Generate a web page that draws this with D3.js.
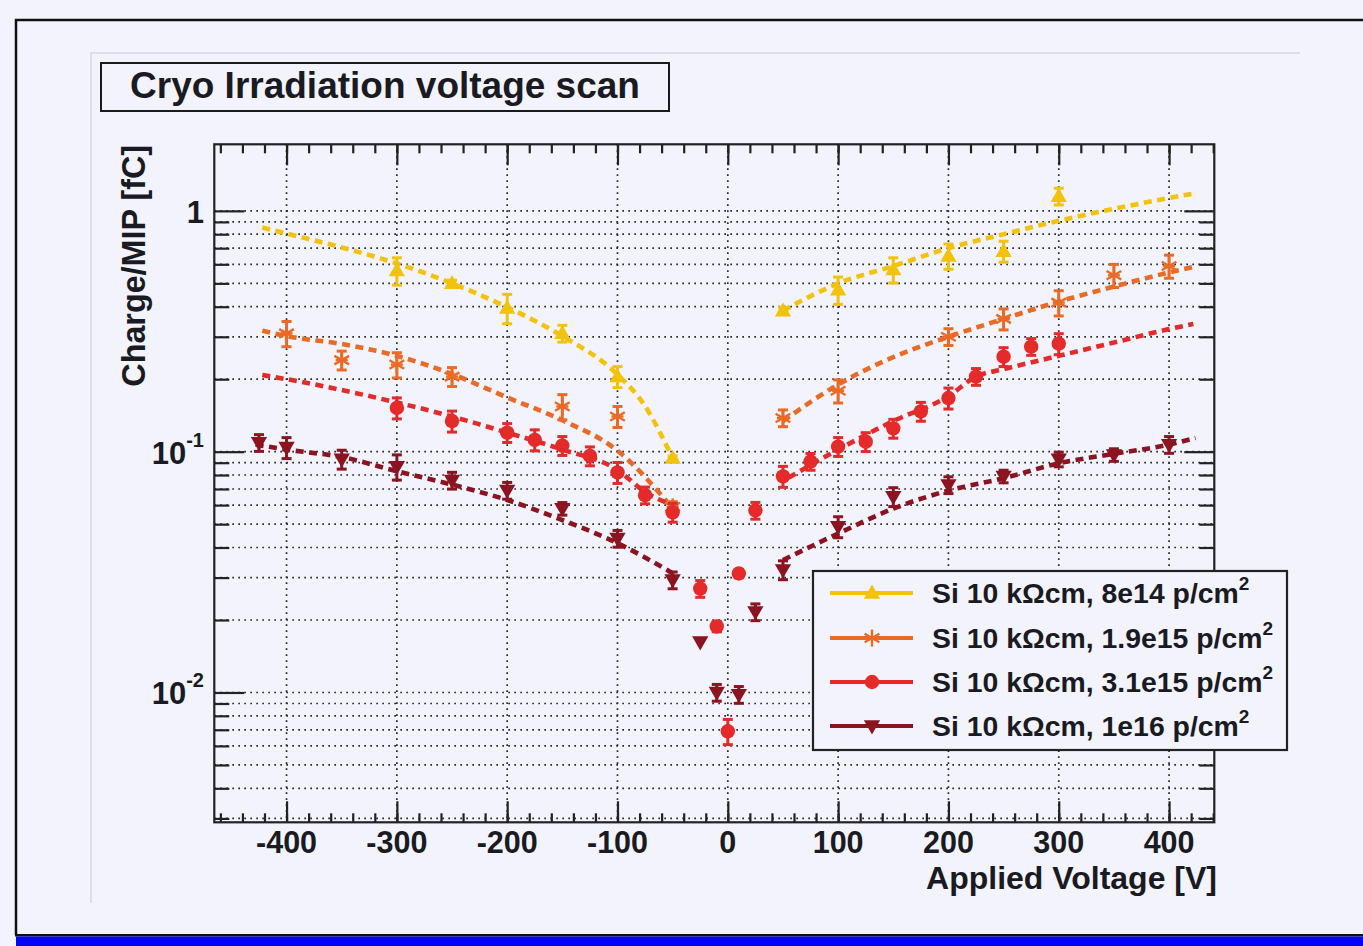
<!DOCTYPE html>
<html>
<head>
<meta charset="utf-8">
<title>Cryo Irradiation voltage scan</title>
<script src="https://cdn.jsdelivr.net/npm/d3@7"></script>
<style>
  html, body { margin: 0; padding: 0; background: #f3f3fd; }
  svg { display: block; }
  text { font-family: "Liberation Sans", Arial, Helvetica, sans-serif; font-weight: bold; fill: #1a1a22; }
</style>
</head>
<body>
<svg id="chart" width="1363" height="946"></svg>
<script>
// ---- measurements: charge per MIP vs applied bias voltage ----
const seriesNames = ["8e14", "1.9e15", "3.1e15", "1e16"];
const seriesColors = ["#f2c20c", "#eb6a25", "#e52a2a", "#8c1420"];

// Si 10 kOhm cm, 8e14 p/cm2
const yellowV = [-300, -250, -200, -150, -100, -50, 50, 100, 150, 200, 250, 300];
const yellowQ = [0.565, 0.50, 0.395, 0.31, 0.205, 0.094, 0.385, 0.47, 0.57, 0.65, 0.68, 1.15];
const yellowE = [0.13, 0.03, 0.14, 0.08, 0.10, 0.02, 0.03, 0.13, 0.12, 0.12, 0.10, 0.08];

// Si 10 kOhm cm, 1.9e15 p/cm2
const orangeV = [-400, -350, -300, -250, -150, -100, -50, 50, 100, 200, 250, 300, 350, 400];
const orangeQ = [0.31, 0.24, 0.23, 0.205, 0.154, 0.14, 0.059, 0.138, 0.179, 0.30, 0.356, 0.416, 0.54, 0.59];
const orangeE = [0.12, 0.09, 0.12, 0.09, 0.12, 0.10, 0.05, 0.08, 0.11, 0.08, 0.10, 0.12, 0.11, 0.11];

// Si 10 kOhm cm, 3.1e15 p/cm2
const redV = [-300, -250, -200, -175, -150, -125, -100, -75, -50, -25, -10, 0, 10, 25, 50, 75, 100, 125, 150, 175, 200, 225, 250, 275, 300];
const redQ = [0.152, 0.134, 0.12, 0.112, 0.106, 0.096, 0.082, 0.066, 0.056, 0.027, 0.0188, 0.0069, 0.0312, 0.057, 0.079, 0.091, 0.105, 0.110, 0.125, 0.147, 0.167, 0.205, 0.248, 0.273, 0.281];
const redE = [0.10, 0.10, 0.09, 0.10, 0.09, 0.09, 0.10, 0.08, 0.09, 0.08, 0.05, 0.12, 0.04, 0.08, 0.10, 0.08, 0.09, 0.09, 0.09, 0.09, 0.10, 0.08, 0.09, 0.08, 0.10];

// Si 10 kOhm cm, 1e16 p/cm2
const darkV = [-425, -400, -350, -300, -250, -200, -150, -100, -50, -25, -10, 10, 25, 50, 100, 150, 200, 250, 300, 350, 400];
const darkQ = [0.109, 0.104, 0.093, 0.0866, 0.076, 0.069, 0.058, 0.0436, 0.0293, 0.0162, 0.0100, 0.0098, 0.0216, 0.0323, 0.0488, 0.065, 0.0728, 0.079, 0.093, 0.097, 0.107];
const darkE = [0.08, 0.10, 0.09, 0.12, 0.08, 0.08, 0.06, 0.08, 0.08, 0.0, 0.08, 0.08, 0.08, 0.09, 0.10, 0.09, 0.08, 0.06, 0.07, 0.06, 0.08];

// ---- fitted curves (negative and positive bias branches) ----
const yellowFitNegV = [-422, -400, -350, -300, -250, -200, -150, -100, -76, -50];
const yellowFitNegQ = [0.853, 0.805, 0.705, 0.605, 0.50, 0.398, 0.302, 0.209, 0.157, 0.094];
const yellowFitPosV = [50, 100, 150, 200, 250, 300, 350, 422];
const yellowFitPosQ = [0.385, 0.50, 0.59, 0.70, 0.80, 0.91, 1.02, 1.18];

const orangeFitNegV = [-422, -400, -350, -300, -250, -200, -150, -100, -55];
const orangeFitNegQ = [0.318, 0.302, 0.28, 0.25, 0.21, 0.168, 0.135, 0.101, 0.062];
const orangeFitPosV = [50, 100, 150, 200, 250, 300, 350, 400, 422];
const orangeFitPosQ = [0.134, 0.19, 0.247, 0.30, 0.356, 0.42, 0.485, 0.555, 0.585];

const redFitNegV = [-422, -400, -300, -250, -200, -150, -100, -75, -50];
const redFitNegQ = [0.208, 0.20, 0.16, 0.14, 0.12, 0.102, 0.084, 0.068, 0.060];
const redFitPosV = [55, 100, 150, 200, 225, 250, 300, 350, 400, 422];
const redFitPosQ = [0.078, 0.102, 0.134, 0.17, 0.205, 0.22, 0.25, 0.284, 0.323, 0.339];

const darkFitNegV = [-428, -400, -350, -300, -250, -200, -150, -100, -50];
const darkFitNegQ = [0.107, 0.102, 0.095, 0.083, 0.073, 0.063, 0.052, 0.0417, 0.0313];
const darkFitPosV = [50, 100, 150, 200, 250, 300, 350, 400, 424];
const darkFitPosQ = [0.0355, 0.0457, 0.058, 0.069, 0.0776, 0.0895, 0.098, 0.107, 0.114];

// ---- axis ticks ----
const xMajorTicks = [-400, -300, -200, -100, 0, 100, 200, 300, 400];
const xMinorTicks = d3.range(-460, 441, 20);
const yMajorTicks = [0.01, 0.1, 1];
const yMajorLabels = [["10", "-2"], ["10", "-1"], ["1", ""]];
const yMinorTicks = [0.003, 0.004, 0.005, 0.006, 0.007, 0.008, 0.009,
                     0.02, 0.03, 0.04, 0.05, 0.06, 0.07, 0.08, 0.09,
                     0.2, 0.3, 0.4, 0.5, 0.6, 0.7, 0.8, 0.9];

const titleText = "Cryo Irradiation voltage scan";
const xTitle = "Applied Voltage [V]";
const yTitle = "Charge/MIP [fC]";

// ---------------------------------------------------------------
const svg = d3.select("#chart");
const W = 1363, H = 946;
const frame = { left: 214.3, right: 1214.3, top: 144.3, bottom: 822.3 };

const x = d3.scaleLinear().domain([-465.5, 441]).range([frame.left, frame.right]);
const y = d3.scaleLog().domain([0.00289, 1.89]).range([frame.bottom, frame.top]);

// canvas decoration
svg.append("rect").attr("width", W).attr("height", H).attr("fill", "#f3f3fd");
svg.append("path").attr("d", `M16,935 L16,20 L${W},20`).attr("fill", "none")
  .attr("stroke", "#111").attr("stroke-width", 2.5);
svg.append("rect").attr("x", 15).attr("y", 934).attr("width", W).attr("height", 2.5).attr("fill", "#111");
svg.append("rect").attr("x", 16).attr("y", 936.5).attr("width", W).attr("height", 10).attr("fill", "#0505f5");
// pad
svg.append("path").attr("d", "M91,903 L91,53 L1300,53").attr("fill", "none")
  .attr("stroke", "#dedee8").attr("stroke-width", 2);

// title box
svg.append("rect").attr("x", 101).attr("y", 63).attr("width", 568).attr("height", 48)
  .attr("fill", "#f3f3fd").attr("stroke", "#1a1a1a").attr("stroke-width", 2);
svg.append("text").attr("x", 385).attr("y", 98).attr("text-anchor", "middle")
  .attr("font-size", 37).text(titleText);

// grid
const gGrid = svg.append("g").attr("stroke", "#2a2a2a").attr("stroke-width", 1.7)
  .attr("stroke-dasharray", "1.7,4.3").attr("fill", "none");
gGrid.selectAll("line.gx").data(xMajorTicks).join("line")
  .attr("x1", d => x(d)).attr("x2", d => x(d)).attr("y1", frame.top).attr("y2", frame.bottom);
gGrid.selectAll("line.gy").data(yMajorTicks.concat(yMinorTicks)).join("line")
  .attr("x1", frame.left).attr("x2", frame.right).attr("y1", d => y(d)).attr("y2", d => y(d));

// axes: ticks pointing inwards on all four sides
const tickStyle = g => {
  g.select(".domain").remove();
  g.selectAll("line").attr("stroke", "#222").attr("stroke-width", 2.2);
  g.selectAll("text").remove();
};
svg.append("g").attr("transform", `translate(0,${frame.bottom})`)
  .call(d3.axisBottom(x).tickValues(xMajorTicks).tickSize(-21).tickFormat("")).call(tickStyle);
svg.append("g").attr("transform", `translate(0,${frame.bottom})`)
  .call(d3.axisBottom(x).tickValues(xMinorTicks).tickSize(-9).tickFormat("")).call(tickStyle);
svg.append("g").attr("transform", `translate(0,${frame.top})`)
  .call(d3.axisTop(x).tickValues(xMajorTicks).tickSize(-21).tickFormat("")).call(tickStyle);
svg.append("g").attr("transform", `translate(0,${frame.top})`)
  .call(d3.axisTop(x).tickValues(xMinorTicks).tickSize(-9).tickFormat("")).call(tickStyle);
svg.append("g").attr("transform", `translate(${frame.left},0)`)
  .call(d3.axisLeft(y).tickValues(yMajorTicks).tickSize(-30).tickFormat("")).call(tickStyle);
svg.append("g").attr("transform", `translate(${frame.left},0)`)
  .call(d3.axisLeft(y).tickValues(yMinorTicks).tickSize(-15).tickFormat("")).call(tickStyle);
svg.append("g").attr("transform", `translate(${frame.right},0)`)
  .call(d3.axisRight(y).tickValues(yMajorTicks).tickSize(-30).tickFormat("")).call(tickStyle);
svg.append("g").attr("transform", `translate(${frame.right},0)`)
  .call(d3.axisRight(y).tickValues(yMinorTicks).tickSize(-15).tickFormat("")).call(tickStyle);

// frame
svg.append("rect").attr("x", frame.left).attr("y", frame.top)
  .attr("width", frame.right - frame.left).attr("height", frame.bottom - frame.top)
  .attr("fill", "none").attr("stroke", "#222").attr("stroke-width", 2.2);

// tick labels
svg.append("g").selectAll("text").data(xMajorTicks).join("text")
  .attr("x", d => x(d)).attr("y", 853).attr("text-anchor", "middle").attr("font-size", 30.5)
  .text(d => d);
const yl = svg.append("g").selectAll("text").data(yMajorTicks).join("text")
  .attr("x", 204).attr("y", d => y(d) + 12).attr("text-anchor", "end").attr("font-size", 31);
yl.append("tspan").text((d, i) => yMajorLabels[i][0]);
yl.append("tspan").attr("font-size", 20).attr("dy", -17).text((d, i) => yMajorLabels[i][1]);

// axis titles
svg.append("text").attr("x", 1217).attr("y", 889).attr("text-anchor", "end")
  .attr("font-size", 32).text(xTitle);
svg.append("text").attr("transform", "translate(145,145) rotate(-90)")
  .attr("text-anchor", "end").attr("font-size", 32.3).text(yTitle);

// ---- series ----
const series = [
  { V: yellowV, Q: yellowQ, E: yellowE, fits: [[yellowFitNegV, yellowFitNegQ], [yellowFitPosV, yellowFitPosQ]], marker: "tri" },
  { V: orangeV, Q: orangeQ, E: orangeE, fits: [[orangeFitNegV, orangeFitNegQ], [orangeFitPosV, orangeFitPosQ]], marker: "star" },
  { V: redV, Q: redQ, E: redE, fits: [[redFitNegV, redFitNegQ], [redFitPosV, redFitPosQ]], marker: "circle" },
  { V: darkV, Q: darkQ, E: darkE, fits: [[darkFitNegV, darkFitNegQ], [darkFitPosV, darkFitPosQ]], marker: "tridown" }
];

const plot = svg.append("g");
const line = d3.line().x(d => x(d[0])).y(d => y(d[1])).curve(d3.curveMonotoneX);

function drawMarker(g, type, color) {
  if (type === "tri") {
    g.append("path").attr("d", d3.symbol(d3.symbolTriangle, 115)()).attr("fill", color)
      .attr("transform", "translate(0,1)");
  } else if (type === "tridown") {
    g.append("path").attr("d", d3.symbol(d3.symbolTriangle, 115)()).attr("fill", color)
      .attr("transform", "translate(0,-1) rotate(180)");
  } else if (type === "circle") {
    g.append("circle").attr("r", 7.2).attr("fill", color);
  } else if (type === "star") {
    const r = 8.5;
    const a = [90, 30, -30];
    a.forEach(deg => {
      const t = deg * Math.PI / 180;
      g.append("line").attr("x1", -r * Math.cos(t)).attr("y1", -r * Math.sin(t))
        .attr("x2", r * Math.cos(t)).attr("y2", r * Math.sin(t))
        .attr("stroke", color).attr("stroke-width", 2.4);
    });
    g.append("line").attr("x1", -6).attr("x2", 6).attr("y1", 0).attr("y2", 0)
      .attr("stroke", color).attr("stroke-width", 2.4);
  }
}

series.forEach((s, si) => {
  const color = seriesColors[si];
  // fit curves
  s.fits.forEach(([fv, fq]) => {
    plot.append("path").datum(fv.map((v, i) => [v, fq[i]])).attr("d", line)
      .attr("fill", "none").attr("stroke", color).attr("stroke-width", 4.6)
      .attr("stroke-dasharray", "8,5.5");
  });
});

series.forEach((s, si) => {
  const color = seriesColors[si];
  const pts = s.V.map((v, i) => ({ v, q: s.Q[i], e: s.E[i] }));
  const g = plot.append("g");
  // error bars with end caps
  pts.forEach(p => {
    if (p.e <= 0) return;
    const y1 = y(p.q * (1 + p.e)), y2 = y(p.q * (1 - p.e)), cx = x(p.v);
    g.append("line").attr("x1", cx).attr("x2", cx).attr("y1", y1).attr("y2", y2)
      .attr("stroke", color).attr("stroke-width", 3);
    [y1, y2].forEach(yy => g.append("line").attr("x1", cx - 5).attr("x2", cx + 5)
      .attr("y1", yy).attr("y2", yy).attr("stroke", color).attr("stroke-width", 3));
  });
  pts.forEach(p => {
    const m = g.append("g").attr("transform", `translate(${x(p.v)},${y(p.q)})`);
    drawMarker(m, s.marker, color);
  });
});

// ---- legend ----
const leg = svg.append("g");
leg.append("rect").attr("x", 813).attr("y", 571).attr("width", 474).attr("height", 179)
  .attr("fill", "#f3f3fd").attr("stroke", "#222").attr("stroke-width", 2.2);
const rowY = [593, 638, 682, 726];
series.forEach((s, i) => {
  const color = seriesColors[i];
  const ry = rowY[i];
  leg.append("line").attr("x1", 830).attr("x2", 913).attr("y1", ry).attr("y2", ry)
    .attr("stroke", color).attr("stroke-width", 4);
  const m = leg.append("g").attr("transform", `translate(872,${ry})`);
  drawMarker(m, s.marker, color);
  const t = leg.append("text").attr("x", 932).attr("y", ry + 10).attr("font-size", 28.4);
  t.append("tspan").text(`Si 10 k\u03A9cm, ${seriesNames[i]} p/cm`);
  t.append("tspan").attr("font-size", 19).attr("dy", -13).text("2");
});
</script>
</body>
</html>
